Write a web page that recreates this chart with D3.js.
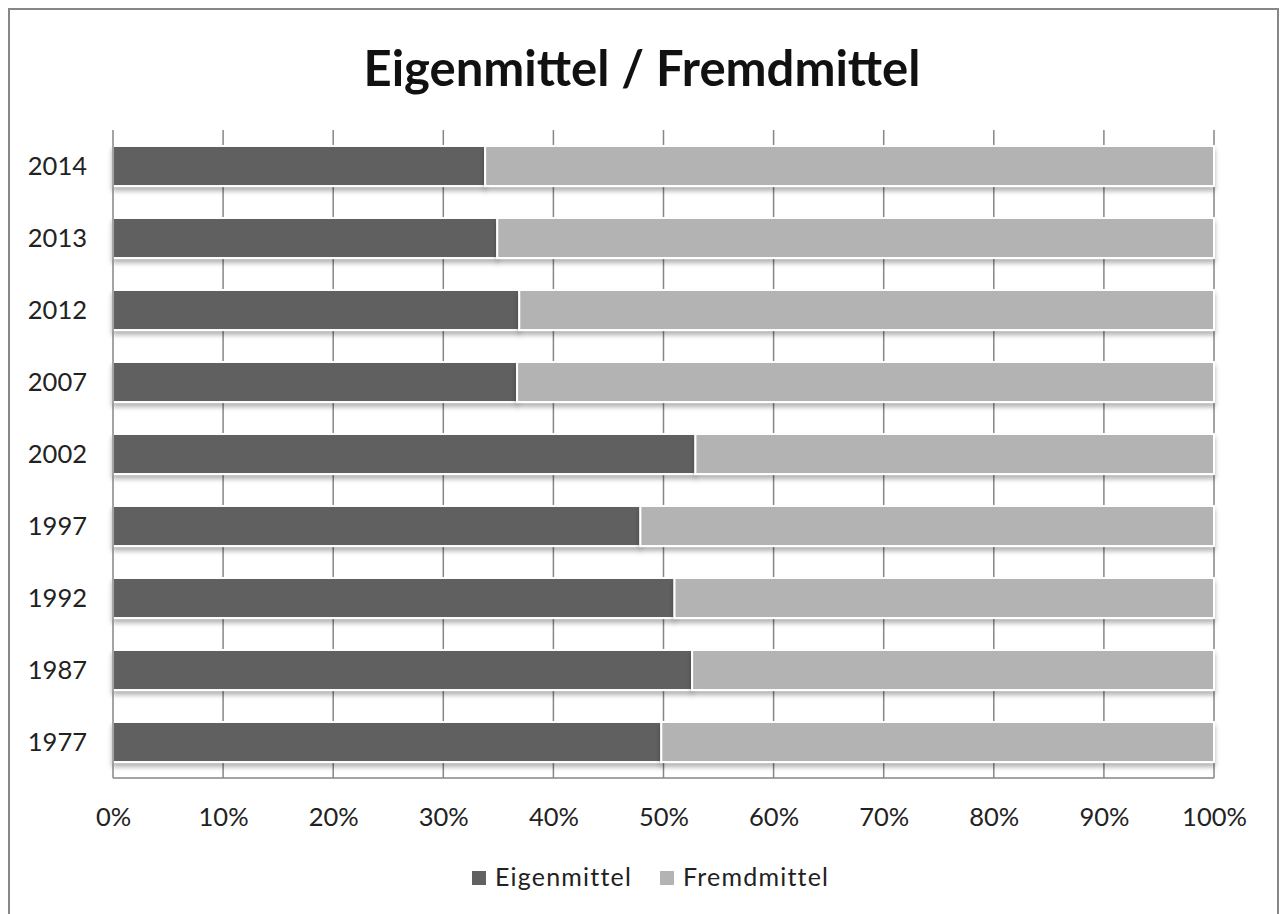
<!DOCTYPE html>
<html>
<head>
<meta charset="utf-8">
<script src="https://cdnjs.cloudflare.com/ajax/libs/d3/7.8.5/d3.min.js"></script>
<style>
body {margin: 0; background: #fff;}
svg {display: block;}
.axis text {font-family: Lato, "Open Sans", sans-serif; font-size: 25.5px; fill: #222;}
.legend text {font-family: Lato, "Open Sans", sans-serif; font-size: 25px; letter-spacing: 1.2px; fill: #222;}
</style>
</head>
<body>
<svg id="chart" width="1281" height="914"></svg>
<script>
// data (share of Eigenmittel, rest is Fremdmittel)
let years = ["2014", "2013", "2012", "2007", "2002", "1997", "1992", "1987", "1977"];
let eigenmittel = [33.8, 34.9, 36.9, 36.7, 52.9, 47.9, 51.0, 52.6, 49.8];
let fremdmittel = eigenmittel.map(v => 100 - v);
let seriesNames = ["Eigenmittel", "Fremdmittel"];
let seriesColors = ["#616161", "#b3b3b3"];
let xTicks = [0, 10, 20, 30, 40, 50, 60, 70, 80, 90, 100];

var svg = d3.select("#chart");

// outer frame
svg.append("rect")
  .attr("x", 9).attr("y", 9)
  .attr("width", 1269).attr("height", 920)
  .attr("fill", "none")
  .attr("stroke", "#878787")
  .attr("stroke-width", 2);

// title
svg.append("text")
  .attr("x", 642).attr("y", 86)
  .attr("text-anchor", "middle")
  .style("font-family", "Lato, 'Open Sans', sans-serif")
  .style("font-weight", "bold")
  .style("font-size", "49px")
  .style("fill", "#111")
  .text("Eigenmittel / Fremdmittel");

var defs = svg.append("defs");
var f = defs.append("filter").attr("id", "shadow")
  .attr("x", "-5%").attr("y", "-20%").attr("width", "110%").attr("height", "160%");
f.append("feDropShadow")
  .attr("dx", 0).attr("dy", 4)
  .attr("stdDeviation", 2.5)
  .attr("flood-color", "#000")
  .attr("flood-opacity", 0.3);

var x = d3.scaleLinear().domain([0, 100]).range([113, 1214]);
var y = d3.scaleBand().domain(years).range([130, 778]).paddingInner(0.444).paddingOuter(0.222);

// vertical gridlines
svg.append("g")
  .selectAll("line")
  .data(xTicks.slice(1))
  .enter()
  .append("line")
    .attr("x1", d => x(d)).attr("x2", d => x(d))
    .attr("y1", 130).attr("y2", 778)
    .attr("stroke", "#868686")
    .attr("stroke-width", 1.5);

// stacked bars
var stackData = years.map((yr, i) => ({year: yr, Eigenmittel: eigenmittel[i], Fremdmittel: fremdmittel[i]}));
var stack = d3.stack().keys(seriesNames)(stackData);

svg.append("g")
  .selectAll("g")
  .data(stack)
  .enter()
  .append("g")
    .attr("fill", (d, i) => seriesColors[i])
  .selectAll("rect")
  .data(d => d)
  .enter()
  .append("rect")
    .attr("x", d => x(d[0]))
    .attr("y", d => y(d.data.year))
    .attr("width", d => x(d[1]) - x(d[0]))
    .attr("height", y.bandwidth())
    .attr("stroke", "#fff")
    .attr("stroke-width", 2)
    .attr("filter", "url(#shadow)");

// axes lines
svg.append("line")
  .attr("x1", 113).attr("x2", 113).attr("y1", 130).attr("y2", 778)
  .attr("stroke", "#868686").attr("stroke-width", 1.5);
svg.append("line")
  .attr("x1", 113).attr("x2", 1214).attr("y1", 778).attr("y2", 778)
  .attr("stroke", "#868686").attr("stroke-width", 1.5);

// x axis labels
var xAxis = d3.axisBottom(x).tickValues(xTicks).tickFormat(d => d + "%").tickSize(0).tickPadding(0);
var gx = svg.append("g").attr("class", "axis").attr("transform", "translate(0,826)").call(xAxis);
gx.select(".domain").remove();
gx.selectAll("text").attr("dy", 0).attr("y", 0);

// y axis labels
var yAxis = d3.axisLeft(y).tickSize(0).tickPadding(0);
var gy = svg.append("g").attr("class", "axis").attr("transform", "translate(87,0)").call(yAxis);
gy.select(".domain").remove();
gy.selectAll("text").attr("dy", "0.36em");

// legend
var legend = svg.append("g").attr("class", "legend");
var legendX = [472, 660];
seriesNames.forEach((name, i) => {
  legend.append("rect")
    .attr("x", legendX[i]).attr("y", 871)
    .attr("width", 14).attr("height", 14)
    .attr("fill", seriesColors[i]);
  legend.append("text")
    .attr("x", legendX[i] + 23).attr("y", 886)
    .text(name);
});
</script>
</body>
</html>
